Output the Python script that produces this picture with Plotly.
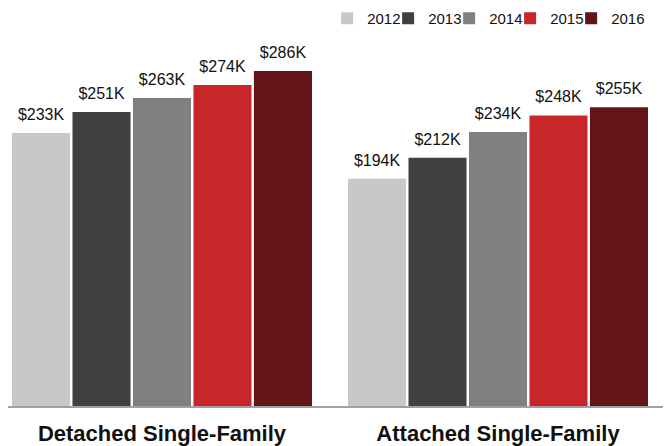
import plotly.graph_objects as go

categories = ["Detached Single-Family", "Attached Single-Family"]
years = ["2012", "2013", "2014", "2015", "2016"]
values = {
    "2012": [233, 194],
    "2013": [251, 212],
    "2014": [263, 234],
    "2015": [274, 248],
    "2016": [286, 255],
}
colors = ["#c8c8c8", "#404040", "#808080", "#c9262a", "#621416"]

fig = go.Figure()
for yr, col in zip(years, colors):
    vals = values[yr]
    fig.add_trace(go.Bar(
        x=categories, y=vals, name=yr,
        marker=dict(color=col, line=dict(width=0)),
    ))
# value labels, grouped the same way as the bars
for yr in years:
    vals = values[yr]
    fig.add_trace(go.Scatter(
        x=categories, y=vals, mode="markers+text", showlegend=False, hoverinfo="skip",
        text=["$%dK" % v for v in vals], textposition="top center",
        textfont=dict(size=16, color="#111111"),
        marker=dict(size=13, opacity=0), cliponaxis=False,
    ))
# empty entry on spare axes so the last legend label is not clipped
fig.add_trace(go.Scatter(x=[None], y=[None], name=" ", mode="markers",
                         marker=dict(color="rgba(0,0,0,0)"), xaxis="x2", yaxis="y2"))

fig.update_layout(
    width=671, height=446,
    barmode="group", bargap=0.1, bargroupgap=0.04,
    scattermode="group", scattergap=0.1,
    plot_bgcolor="white", paper_bgcolor="white",
    font=dict(family="Liberation Sans, Arial, sans-serif", color="#111111"),
    margin=dict(l=0, r=13, t=50, b=48, autoexpand=False),
    showlegend=True,
    legend=dict(orientation="h", x=0.485, y=1.161, xanchor="left", yanchor="top",
                font=dict(size=15), itemwidth=30, entrywidth=16,
                bgcolor="rgba(0,0,0,0)"),
    xaxis=dict(range=[-0.4583, 1.5], showline=True, linecolor="#a0a0a0", linewidth=1.5,
               automargin=False,
               ticks="outside", ticklen=7, tickcolor="white",
               tickfont=dict(size=22, family="Liberation Sans, Arial, sans-serif", color="#111111"),
               tickprefix="<b>", ticksuffix="</b>"),
    yaxis=dict(range=[0, 297.1], visible=False),
    xaxis2=dict(overlaying="x", visible=False),
    yaxis2=dict(overlaying="y", visible=False),
)

fig.write_html("out.html")
